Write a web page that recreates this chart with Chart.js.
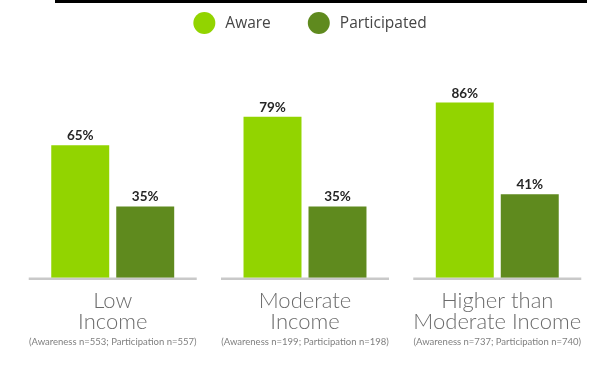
<!DOCTYPE html>
<html>
<head>
<meta charset="utf-8">
<title>Awareness and participation by income</title>
<script src="https://cdn.jsdelivr.net/npm/chart.js@4.4.0/dist/chart.umd.min.js"></script>
<style>
  html, body { margin: 0; padding: 0; background: #ffffff; }
  #wrap { width: 605px; height: 371px; position: relative; }
</style>
</head>
<body>
<div id="wrap"><canvas id="chart" width="605" height="371"></canvas></div>
<script>
// Income groups (category axis, one label line per array entry)
const categories = [
  ['Low', 'Income'],
  ['Moderate', 'Income'],
  ['Higher than', 'Moderate Income']
];
// Sample sizes shown under each group
const sampleNotes = [
  '(Awareness n=553; Participation n=557)',
  '(Awareness n=199; Participation n=198)',
  '(Awareness n=737; Participation n=740)'
];
// Percent of respondents
const awareValues = [65, 79, 86];
const participatedValues = [35, 35, 41];
const seriesNames = ['Aware', 'Participated'];

const AWARE_COLOR = '#92d400';
const PART_COLOR = '#5f8a1e';

// Thin black rule across the top edge
const topRule = {
  id: 'topRule',
  beforeDraw(chart) {
    const ctx = chart.ctx;
    ctx.save();
    ctx.fillStyle = '#000000';
    ctx.fillRect(55, 0, 532, 3);
    ctx.restore();
  }
};

// Grey base segment under each group of bars
const groupBase = {
  id: 'groupBase',
  beforeDatasetsDraw(chart) {
    const ctx = chart.ctx;
    const x = chart.scales.x;
    const y0 = chart.scales.y.getPixelForValue(0);
    ctx.save();
    ctx.strokeStyle = '#c9c9c9';
    ctx.lineWidth = 2.5;
    for (let i = 0; i < categories.length; i++) {
      const cx = x.getPixelForTick(i);
      ctx.beginPath();
      ctx.moveTo(cx - 84, y0 + 1);
      ctx.lineTo(cx + 84, y0 + 1);
      ctx.stroke();
    }
    ctx.restore();
  }
};

// Percent labels above bars, sample notes, and the round-dot legend
const annotations = {
  id: 'annotations',
  afterDraw(chart) {
    const ctx = chart.ctx;
    ctx.save();

    // value labels
    ctx.font = 'bold 13.5px Lato, "Open Sans", sans-serif';
    ctx.fillStyle = '#262626';
    ctx.textAlign = 'center';
    ctx.textBaseline = 'alphabetic';
    chart.data.datasets.forEach((ds, di) => {
      const meta = chart.getDatasetMeta(di);
      meta.data.forEach((bar, i) => {
        ctx.fillText(ds.data[i] + '%', bar.x, bar.y - 5);
      });
    });

    // sample-size notes
    const x = chart.scales.x;
    ctx.font = '9.5px Lato, "Open Sans", sans-serif';
    ctx.fillStyle = '#7f7f7f';
    ctx.textBaseline = 'middle';
    sampleNotes.forEach((t, i) => {
      ctx.fillText(t, x.getPixelForTick(i), chart.chartArea.bottom + 64.5);
    });

    // legend
    const r = 11, gapText = 10, gapItem = 37;
    ctx.font = '15.5px "Open Sans", Lato, sans-serif';
    const items = chart.data.datasets.map(ds => ({
      label: ds.label, color: ds.backgroundColor,
      w: 2 * r + gapText + ctx.measureText(ds.label).width
    }));
    const total = items.reduce((s, it) => s + it.w, 0) + gapItem * (items.length - 1);
    let lx = (chart.chartArea.left + chart.chartArea.right) / 2 + 5 - total / 2;
    const ly = 23;
    ctx.textAlign = 'left';
    ctx.textBaseline = 'middle';
    items.forEach(it => {
      ctx.beginPath();
      ctx.arc(lx + r, ly, r, 0, Math.PI * 2);
      ctx.fillStyle = it.color;
      ctx.fill();
      ctx.fillStyle = '#454545';
      ctx.fillText(it.label, lx + 2 * r + gapText, ly + 1);
      lx += it.w + gapItem;
    });

    ctx.restore();
  }
};

new Chart(document.getElementById('chart'), {
  type: 'bar',
  data: {
    labels: categories,
    datasets: [
      { label: seriesNames[0], data: awareValues, backgroundColor: AWARE_COLOR },
      { label: seriesNames[1], data: participatedValues, backgroundColor: PART_COLOR }
    ]
  },
  options: {
    responsive: false,
    animation: false,
    devicePixelRatio: 1,
    layout: { padding: { top: 74, left: 16.6, right: 11.6, bottom: 34.5 } },
    datasets: {
      bar: { barPercentage: 0.892, categoryPercentage: 0.676 }
    },
    plugins: {
      legend: { display: false },
      tooltip: { enabled: false },
      title: { display: false }
    },
    scales: {
      y: { display: false, min: 0, max: 100 },
      x: {
        grid: { display: false },
        border: { display: false },
        ticks: {
          color: '#6b6b6b',
          padding: 4,
          maxRotation: 0,
          autoSkip: false,
          font: { family: 'Lato, "Open Sans", sans-serif', weight: '300', size: 22, lineHeight: 0.97 }
        }
      }
    }
  },
  plugins: [topRule, groupBase, annotations]
});
</script>
</body>
</html>
